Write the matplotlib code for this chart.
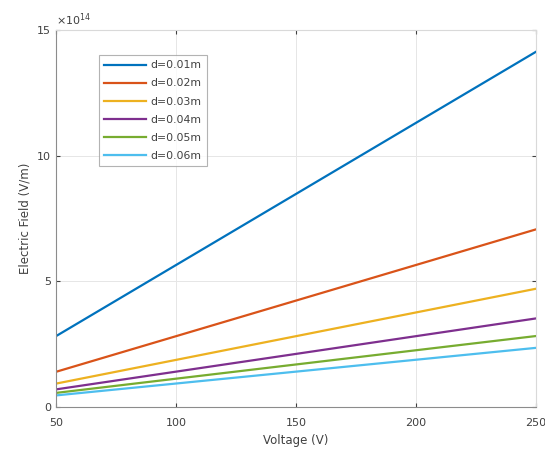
import numpy as np
import matplotlib
matplotlib.use("Agg")
import matplotlib.pyplot as plt

# voltage endpoints (V) and field endpoints (units of 1e14 V/m)
voltage = [50, 250]
labels = ["d=0.01m", "d=0.02m", "d=0.03m", "d=0.04m", "d=0.05m", "d=0.06m"]
field_001 = [2.83, 14.13]
field_002 = [1.41, 7.07]
field_003 = [0.94, 4.71]
field_004 = [0.71, 3.53]
field_005 = [0.57, 2.83]
field_006 = [0.47, 2.36]
fields = [field_001, field_002, field_003, field_004, field_005, field_006]

colors = ["#0072BD", "#D95319", "#EDB120", "#7E2F8E", "#77AC30", "#4DBEEE"]

fig = plt.figure(figsize=(5.45, 4.55), dpi=100)
ax = fig.add_axes([0.103, 0.105, 0.880, 0.829])

for f, lab, c in zip(fields, labels, colors):
    ax.plot(voltage, np.array(f) * 1e14, color=c, lw=1.6, label=lab)

ax.set_xlim(50, 250)
ax.set_ylim(0, 15e14)
ax.set_xticks([50, 100, 150, 200, 250])
ax.set_yticks([0, 5e14, 10e14, 15e14])
ax.set_yticklabels(["0", "5", "10", "15"])
ax.grid(True, color="#e6e6e6", lw=0.7)
ax.set_axisbelow(True)

for side in ["left", "bottom"]:
    ax.spines[side].set_color("#8c8c8c")
for side in ["top", "right"]:
    ax.spines[side].set_color("#d9d9d9")
ax.tick_params(direction="in", length=3, colors="#404040", labelsize=8,
               top=True, right=True)
ax.tick_params(axis="x", pad=8)

ax.text(0.0, 1.005, r"$\times10^{14}$", transform=ax.transAxes,
        fontsize=8, color="#404040", ha="left", va="bottom")

ax.set_xlabel("Voltage (V)", fontsize=8.5, color="#404040")
ax.set_ylabel("Electric Field (V/m)", fontsize=8.5, color="#404040")

leg = ax.legend(loc="upper left", bbox_to_anchor=(0.089, 0.934), fontsize=7.8,
                frameon=True, fancybox=False, edgecolor="#a0a0a0",
                handlelength=3.9, handletextpad=0.4, labelspacing=0.75,
                borderpad=0.5, borderaxespad=0)
leg.get_frame().set_linewidth(0.8)
for t in leg.get_texts():
    t.set_color("#404040")

fig.savefig("out.png", dpi=100)
